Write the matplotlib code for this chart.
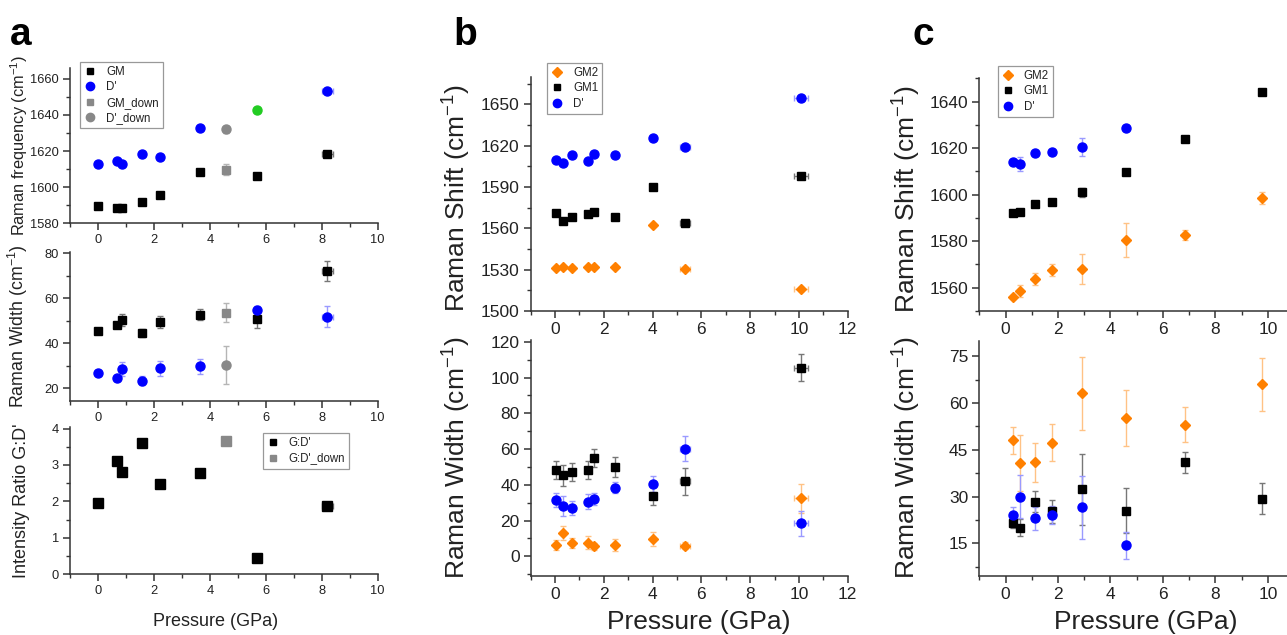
import matplotlib
matplotlib.use("Agg")
import matplotlib.pyplot as plt
from matplotlib.ticker import MultipleLocator
from matplotlib.lines import Line2D

plt.rcParams['font.family'] = ['Liberation Sans', 'DejaVu Sans']
plt.rcParams['mathtext.fontset'] = 'custom'
plt.rcParams['mathtext.rm'] = 'Liberation Sans'
plt.rcParams['mathtext.it'] = 'Liberation Sans:italic'
plt.rcParams['mathtext.bf'] = 'Liberation Sans:bold'

# ---------------- Panel a data ----------------
pa_x = [0, 0.68, 0.85, 1.58, 2.22, 3.65, 5.68, 8.2]
pa_xerr = [0, 0, 0, 0, 0.08, 0, 0, 0.2]
pa_gm_freq = [1589.5, 1588.5, 1588.5, 1592.0, 1595.5, 1608.5, 1606.0, 1618.5]
pa_gm_freq_err = [0.5, 0.5, 0.5, 0.5, 1.0, 0.5, 0.5, 1.5]
pa_dp_freq = [1613.0, 1614.4, 1613.0, 1618.4, 1616.6, 1633.0, 1642.8, 1653.4]
pa_dp_freq_err = [0.5, 0.5, 0.5, 0.5, 0.5, 0.5, 1.0, 0.8]
pa_down_x = [4.59]
pa_gm_down_freq = [1609.7]
pa_gm_down_freq_err = [3.0]
pa_dp_down_freq = [1632.0]
pa_dp_down_freq_err = [2.0]
pa_gm_width = [45.6, 48.1, 50.4, 44.7, 49.5, 52.7, 50.8, 72.3]
pa_gm_width_err = [1.2, 1.0, 2.5, 1.8, 2.5, 2.5, 4.0, 4.4]
pa_dp_width = [27.0, 24.4, 28.4, 23.4, 28.9, 29.8, 54.7, 51.9]
pa_dp_width_err = [1.0, 1.0, 3.1, 2.0, 3.3, 3.3, 2.0, 4.7]
pa_gm_down_width = [53.6]
pa_gm_down_width_err = [4.3]
pa_dp_down_width = [30.4]
pa_dp_down_width_err = [8.4]
pa_ratio = [1.96, 3.10, 2.82, 3.60, 2.47, 2.79, 0.45, 1.87]
pa_ratio_down = [3.65]
pa_highlight_idx = 6  # D' point drawn in green in the frequency plot

# ---------------- Panel b data ----------------
pb_x = [0.04, 0.32, 0.70, 1.34, 1.59, 2.45, 4.01, 5.34, 10.08]
pb_xerr = [0, 0, 0, 0, 0, 0, 0, 0.2, 0.3]
pb_gm2_shift = [1531.3, 1532.0, 1531.3, 1532.0, 1532.0, 1532.0, 1562.6, 1530.8, 1516.0]
pb_gm2_shift_err = [0.8, 0.8, 0.8, 0.8, 0.8, 0.8, 0.8, 1.0, 1.2]
pb_gm1_shift = [1571.4, 1565.5, 1568.0, 1570.4, 1571.8, 1568.0, 1590.3, 1563.8, 1598.3]
pb_gm1_shift_err = [0.8, 0.8, 0.8, 0.8, 0.8, 0.8, 0.8, 1.0, 1.0]
pb_dp_shift = [1609.7, 1607.5, 1613.1, 1608.5, 1613.8, 1613.1, 1625.2, 1618.9, 1654.9]
pb_dp_shift_err = [0.8, 0.8, 0.8, 0.8, 0.8, 0.8, 0.8, 1.0, 1.0]
pb_gm2_width = [6.3, 13.1, 7.5, 7.7, 5.6, 6.3, 9.7, 6.0, 32.5]
pb_gm2_width_err = [3.0, 4.0, 3.0, 3.5, 2.0, 3.5, 4.0, 2.0, 8.0]
pb_gm1_width = [48.5, 45.3, 47.2, 48.2, 55.2, 50.0, 33.8, 42.0, 105.4]
pb_gm1_width_err = [5.0, 6.0, 5.0, 5.0, 5.0, 5.5, 5.0, 7.5, 7.5]
pb_dp_width = [31.7, 28.0, 27.1, 30.6, 32.1, 38.4, 40.7, 60.3, 18.5]
pb_dp_width_err = [4.0, 5.5, 4.0, 4.0, 3.5, 3.0, 4.5, 7.0, 7.0]

# ---------------- Panel c data ----------------
pc_x = [0.29, 0.55, 1.14, 1.78, 2.92, 4.61, 6.86, 9.78]
pc_gm2_shift = [1556.0, 1558.7, 1563.7, 1567.6, 1567.9, 1580.4, 1582.7, 1598.6]
pc_gm2_shift_err = [0.8, 2.5, 2.5, 2.5, 6.5, 7.3, 2.0, 2.5]
pc_gm1_shift = [1592.0, 1592.4, 1595.8, 1597.0, 1601.0, 1609.9, 1623.9, 1644.3]
pc_gm1_shift_err = [0.5, 0.5, 0.5, 0.5, 2.0, 1.0, 0.5, 0.5]
pc_dp_x = [0.29, 0.55, 1.14, 1.78, 2.92, 4.61]
pc_dp_shift = [1613.9, 1613.0, 1617.9, 1618.4, 1620.5, 1628.8]
pc_dp_shift_err = [0.5, 3.0, 0.5, 0.5, 4.0, 1.0]
pc_gm2_width = [48.0, 40.9, 41.0, 47.3, 63.1, 55.1, 53.1, 66.0]
pc_gm2_width_err = [4.2, 9.0, 6.3, 6.0, 11.6, 9.0, 5.5, 8.4]
pc_gm1_width = [21.4, 20.0, 28.4, 25.2, 32.4, 25.4, 41.0, 29.3]
pc_gm1_width_err = [1.5, 2.8, 3.5, 3.7, 11.4, 7.2, 3.3, 5.0]
pc_dp_width = [24.1, 30.0, 23.0, 24.1, 26.5, 14.3]
pc_dp_width_err = [2.5, 7.0, 3.8, 3.0, 10.0, 4.2]

# ---------------- styles ----------------
BLACK = '#000000'
BLUE = '#0000ff'
ORANGE = '#ff8000'
GRAY = '#888888'
GREEN = '#22cc22'
ERR = {BLACK: '#777777', BLUE: '#9a9aff', ORANGE: '#ffc285', GRAY: '#b5b5b5', GREEN: '#88dd88'}
AXC = '#333333'
TXT = '#222222'
CM = 'cm$^{\\mathregular{-1}}$'

W, H = 1287, 635
fig = plt.figure(figsize=(W / 100, H / 100), dpi=100)


def px_axes(left, top, right, bottom):
    return fig.add_axes([left / W, 1 - bottom / H, (right - left) / W, (bottom - top) / H])


def style(ax, tick_fs, xmaj, xmin_, ymaj, ymin_):
    for s in ('top', 'right'):
        ax.spines[s].set_visible(False)
    for s in ('left', 'bottom'):
        ax.spines[s].set_color(AXC)
        ax.spines[s].set_linewidth(1.1)
    ax.xaxis.set_major_locator(MultipleLocator(xmaj))
    ax.xaxis.set_minor_locator(MultipleLocator(xmin_))
    ax.yaxis.set_major_locator(MultipleLocator(ymaj))
    ax.yaxis.set_minor_locator(MultipleLocator(ymin_))
    ax.tick_params(which='major', direction='out', length=5, width=1.1, color=AXC,
                   labelsize=tick_fs, labelcolor=TXT, pad=3)
    ax.tick_params(which='minor', direction='out', length=3, width=1.0, color=AXC)
    ax.patch.set_alpha(0)


def eb(ax, x, y, yerr, color, marker, ms, xerr=None, z=3):
    return ax.errorbar(x, y, yerr=yerr, xerr=xerr, fmt=marker, color=color, ms=ms,
                       mec=color, mfc=color, ecolor=ERR[color], elinewidth=1.0,
                       capsize=2, capthick=1.0, zorder=z)


def legend(ax, entries, anchor, fs):
    handles = [Line2D([], [], ls='none', marker=m, color=c, mec=c, mfc=c, ms=ms)
               for (_, c, m, ms) in entries]
    labels = [e[0] for e in entries]
    lg = ax.legend(handles, labels, loc='upper left', bbox_to_anchor=anchor, borderaxespad=0,
                   fontsize=fs, frameon=True, fancybox=False, framealpha=1,
                   edgecolor='#999999', handlelength=1.0, handletextpad=0.9,
                   labelspacing=0.3, borderpad=0.35, numpoints=1)
    lg.get_frame().set_linewidth(0.9)
    for t in lg.get_texts():
        t.set_color(TXT)
    return lg


# ================= Panel a =================
tfa = 9.3
ya = -0.13
# top: frequency
a1 = px_axes(70, 68, 377.7, 223.3)
style(a1, tfa, 2, 1, 20, 10)
a1.set_xlim(-1, 10)
a1.set_ylim(1580, 1666)
eb(a1, pa_x, pa_gm_freq, pa_gm_freq_err, BLACK, 's', 6, xerr=pa_xerr)
dp_x_main = [v for i, v in enumerate(pa_x) if i != pa_highlight_idx]
dp_y_main = [v for i, v in enumerate(pa_dp_freq) if i != pa_highlight_idx]
dp_e_main = [v for i, v in enumerate(pa_dp_freq_err) if i != pa_highlight_idx]
dp_xe_main = [v for i, v in enumerate(pa_xerr) if i != pa_highlight_idx]
eb(a1, dp_x_main, dp_y_main, dp_e_main, BLUE, 'o', 6.5, xerr=dp_xe_main)
eb(a1, pa_down_x, pa_gm_down_freq, pa_gm_down_freq_err, GRAY, 's', 6)
eb(a1, pa_down_x, pa_dp_down_freq, pa_dp_down_freq_err, GRAY, 'o', 6.5)
eb(a1, [pa_x[pa_highlight_idx]], [pa_dp_freq[pa_highlight_idx]],
   [pa_dp_freq_err[pa_highlight_idx]], GREEN, 'o', 6.5, xerr=[0.1])
a1.set_ylabel('Raman frequency (' + CM + ')', fontsize=11.8, color=TXT)
a1.yaxis.set_label_coords(ya, 0.5)
legend(a1, [('GM', BLACK, 's', 5), ("D'", BLUE, 'o', 6), ('GM_down', GRAY, 's', 5),
            ("D'_down", GRAY, 'o', 6)], (0.0325, 1.039), 8.3)

# middle: width
a2 = px_axes(70, 251.7, 377.7, 401)
style(a2, tfa, 2, 1, 20, 10)
a2.set_xlim(-1, 10)
a2.set_ylim(14.4, 80.7)
eb(a2, pa_x, pa_gm_width, pa_gm_width_err, BLACK, 's', 6, xerr=pa_xerr)
eb(a2, pa_x, pa_dp_width, pa_dp_width_err, BLUE, 'o', 6.5, xerr=pa_xerr)
eb(a2, pa_down_x, pa_gm_down_width, pa_gm_down_width_err, GRAY, 's', 6)
eb(a2, pa_down_x, pa_dp_down_width, pa_dp_down_width_err, GRAY, 'o', 6.5)
a2.set_ylabel('Raman Width (' + CM + ')', fontsize=12.8, color=TXT)
a2.yaxis.set_label_coords(ya, 0.5)

# bottom: intensity ratio
a3 = px_axes(70, 426.7, 377.7, 574.3)
style(a3, tfa, 2, 1, 1, 0.5)
a3.set_xlim(-1, 10)
a3.set_ylim(0, 4.05)
eb(a3, pa_x, pa_ratio, None, BLACK, 's', 6.5, xerr=pa_xerr)
eb(a3, pa_down_x, pa_ratio_down, None, GRAY, 's', 6.5)
a3.set_ylabel("Intensity Ratio G:D'", fontsize=13, color=TXT)
a3.yaxis.set_label_coords(ya, 0.5)
a3.set_xlabel('Pressure (GPa)', fontsize=13, color=TXT)
a3.xaxis.set_label_coords(0.474, -0.26)
legend(a3, [("G:D'", BLACK, 's', 5), ("G:D'_down", GRAY, 's', 5)], (0.627, 0.957), 8.3)

# ================= Panel b =================
tfb = 12.5
yb = -0.182
b1 = px_axes(530.7, 76.7, 847.7, 311)
style(b1, tfb, 2, 1, 30, 15)
b1.set_xlim(-1, 12)
b1.set_ylim(1500, 1670)
eb(b1, pb_x, pb_gm2_shift, pb_gm2_shift_err, ORANGE, 'D', 5.5, xerr=pb_xerr)
eb(b1, pb_x, pb_gm1_shift, pb_gm1_shift_err, BLACK, 's', 5.5, xerr=pb_xerr)
eb(b1, pb_x, pb_dp_shift, pb_dp_shift_err, BLUE, 'o', 6.5, xerr=pb_xerr)
b1.set_ylabel('Raman Shift (' + CM + ')', fontsize=19, color=TXT)
b1.yaxis.set_label_coords(yb, 0.48)
legend(b1, [('GM2', ORANGE, 'D', 5), ('GM1', BLACK, 's', 5), ("D'", BLUE, 'o', 6)],
       (0.052, 1.06), 8.3)

b2 = px_axes(530.7, 340, 847.7, 576)
style(b2, tfb, 2, 1, 20, 10)
b2.set_xlim(-1, 12)
b2.set_ylim(-11, 121)
eb(b2, pb_x, pb_gm2_width, pb_gm2_width_err, ORANGE, 'D', 5.5, xerr=pb_xerr)
eb(b2, pb_x, pb_gm1_width, pb_gm1_width_err, BLACK, 's', 5.5, xerr=pb_xerr)
eb(b2, pb_x, pb_dp_width, pb_dp_width_err, BLUE, 'o', 6.5, xerr=pb_xerr)
b2.set_ylabel('Raman Width (' + CM + ')', fontsize=19, color=TXT)
b2.yaxis.set_label_coords(yb, 0.5)
b2.set_xlabel('Pressure (GPa)', fontsize=19, color=TXT)
b2.xaxis.set_label_coords(0.531, -0.145)

# ================= Panel c =================
yc = -0.179
c_right = 979.3 + 12 * 26.23
c1 = px_axes(979.3, 78.3, c_right, 311)
style(c1, tfb, 2, 1, 20, 10)
c1.set_xlim(-1, 11)
c1.set_ylim(1550, 1650)
eb(c1, pc_x, pc_gm2_shift, pc_gm2_shift_err, ORANGE, 'D', 5.5)
eb(c1, pc_x, pc_gm1_shift, pc_gm1_shift_err, BLACK, 's', 5.5)
eb(c1, pc_dp_x, pc_dp_shift, pc_dp_shift_err, BLUE, 'o', 6.5)
c1.set_ylabel('Raman Shift (' + CM + ')', fontsize=19, color=TXT)
c1.yaxis.set_label_coords(yc, 0.48)
legend(c1, [('GM2', ORANGE, 'D', 5), ('GM1', BLACK, 's', 5), ("D'", BLUE, 'o', 6)],
       (0.0585, 1.054), 8.3)

c2 = px_axes(979.3, 340.7, c_right, 576)
style(c2, tfb, 2, 1, 15, 7.5)
c2.set_xlim(-1, 11)
c2.set_ylim(4.5, 80)
eb(c2, pc_x, pc_gm2_width, pc_gm2_width_err, ORANGE, 'D', 5.5)
eb(c2, pc_x, pc_gm1_width, pc_gm1_width_err, BLACK, 's', 5.5)
eb(c2, pc_dp_x, pc_dp_width, pc_dp_width_err, BLUE, 'o', 6.5)
c2.set_ylabel('Raman Width (' + CM + ')', fontsize=19, color=TXT)
c2.yaxis.set_label_coords(yc, 0.5)
c2.set_xlabel('Pressure (GPa)', fontsize=19, color=TXT)
c2.xaxis.set_label_coords(0.53, -0.145)

# panel letters
for x, lab in [(10, 'a'), (453, 'b'), (912, 'c')]:
    fig.text(x / W, 1 - 45 / H, lab, fontsize=28, fontweight='bold',
             family=['Liberation Sans Narrow', 'Liberation Sans'], va='baseline', ha='left')

fig.savefig('out.png', dpi=100)
